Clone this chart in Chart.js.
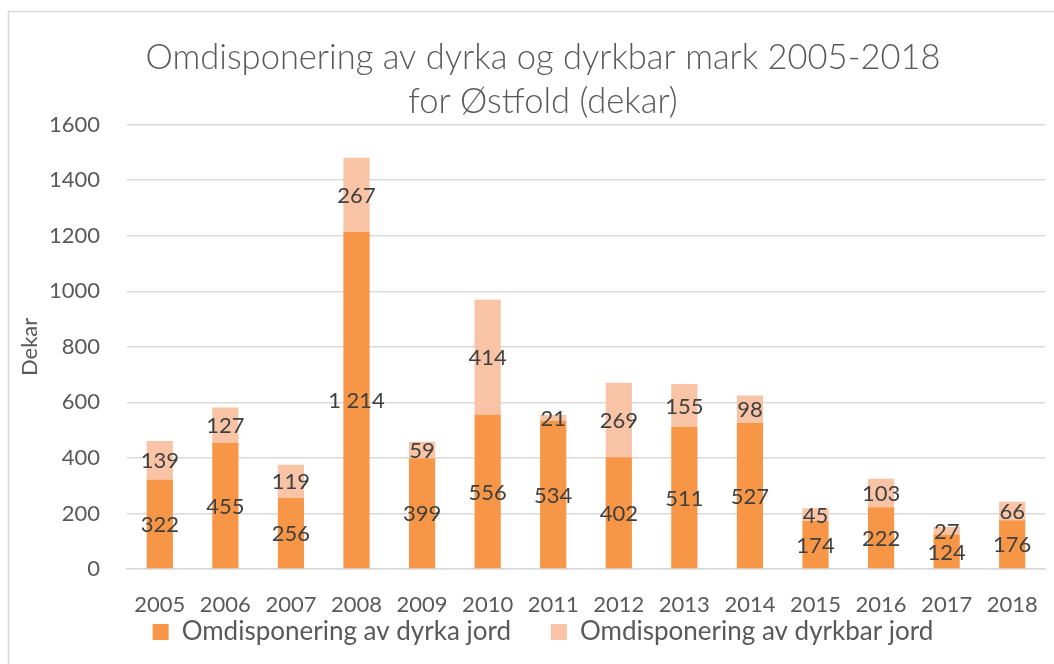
<!DOCTYPE html>
<html>
<head>
<meta charset="utf-8">
<script src="https://cdn.jsdelivr.net/npm/chart.js@4"></script>
<style>
    body { margin: 0; background: #ffffff; }
    #wrap { width: 1054px; height: 664px; position: relative; }
</style>
</head>
<body>
<div id="wrap"><canvas id="landChart" width="1054" height="664"></canvas></div>
<script>
// Data
const years = ['2005', '2006', '2007', '2008', '2009', '2010', '2011', '2012', '2013', '2014', '2015', '2016', '2017', '2018'];
const dyrkaJord = [322, 455, 256, 1214, 399, 556, 534, 402, 511, 527, 174, 222, 124, 176];
const dyrkbarJord = [139, 127, 119, 267, 59, 414, 21, 269, 155, 98, 45, 103, 27, 66];
const titleLines = ['Omdisponering av dyrka og dyrkbar mark 2005-2018', 'for Østfold (dekar)'];
const yTitle = 'Dekar';

const FONT = 'Lato, "Open Sans", sans-serif';
const TEXT = '#595959';

// Excel style: labels in the middle of each stacked segment
const segmentLabels = {
    id: 'segmentLabels',
    afterDatasetsDraw(chart) {
        const ctx = chart.ctx;
        ctx.save();
        ctx.font = '22px ' + FONT;
        ctx.fillStyle = '#404040';
        ctx.textAlign = 'center';
        ctx.textBaseline = 'middle';
        chart.data.datasets.forEach((ds, i) => {
            const meta = chart.getDatasetMeta(i);
            meta.data.forEach((bar, j) => {
                const v = ds.data[j];
                // thousands separated by a space, like "1 214"
                const label = String(v).replace(/\B(?=(\d{3})+(?!\d))/g, ' ');
                ctx.fillText(label, bar.x, (bar.y + bar.base) / 2 + 1);
            });
        });
        ctx.restore();
    }
};

// Frame round the chart and the rotated y axis title
const frame = {
    id: 'frame',
    beforeDraw(chart) {
        const ctx = chart.ctx;
        ctx.save();
        ctx.strokeStyle = '#d9d9d9';
        ctx.lineWidth = 1.5;
        ctx.strokeRect(8.5, 11.5, chart.width, chart.height);
        ctx.restore();
    },
    afterDraw(chart) {
        const ctx = chart.ctx;
        const area = chart.chartArea;
        ctx.save();
        ctx.translate(30, (area.top + area.bottom) / 2);
        ctx.rotate(-Math.PI / 2);
        ctx.font = '22px ' + FONT;
        ctx.fillStyle = TEXT;
        ctx.textAlign = 'center';
        ctx.textBaseline = 'middle';
        ctx.fillText(yTitle, 0, 0);
        ctx.restore();
    }
};

const ctx = document.getElementById('landChart').getContext('2d');
new Chart(ctx, {
    type: 'bar',
    data: {
        labels: years,
        datasets: [
            {
                label: 'Omdisponering av dyrka jord',
                data: dyrkaJord,
                backgroundColor: '#f79646',
                barPercentage: 0.4,
                categoryPercentage: 1.0
            },
            {
                label: 'Omdisponering av dyrkbar jord',
                data: dyrkbarJord,
                backgroundColor: '#f9c4a6',
                barPercentage: 0.4,
                categoryPercentage: 1.0
            }
        ]
    },
    options: {
        responsive: false,
        animation: false,
        layout: {
            padding: { left: 41, right: 9, top: 35, bottom: 9 }
        },
        plugins: {
            title: {
                display: true,
                text: titleLines,
                color: TEXT,
                font: { family: FONT, size: 34.5, weight: 300, lineHeight: 1.3 },
                padding: { top: 0, bottom: 0 }
            },
            legend: {
                position: 'bottom',
                labels: {
                    color: TEXT,
                    font: { family: FONT, size: 26 },
                    boxWidth: 16,
                    boxHeight: 16,
                    padding: 0,
                    generateLabels(chart) {
                        const items = Chart.defaults.plugins.legend.labels.generateLabels(chart);
                        // wider gap between the two entries, as in the reference
                        items[0].text = items[0].text + '\u00a0'.repeat(6);
                        return items;
                    }
                }
            },
            tooltip: { enabled: false }
        },
        scales: {
            x: {
                stacked: true,
                grid: { display: false },
                border: { display: true, color: '#d9d9d9', width: 1.5 },
                ticks: {
                    color: TEXT,
                    font: { family: FONT, size: 22 },
                    padding: 15,
                    maxRotation: 0
                },
                afterFit(scale) {
                    scale.height = 50;
                }
            },
            y: {
                stacked: true,
                min: 0,
                max: 1600,
                grid: { color: '#d9d9d9', lineWidth: 1.5, drawTicks: false },
                border: { display: false },
                ticks: {
                    stepSize: 200,
                    color: TEXT,
                    font: { family: FONT, size: 22 },
                    padding: 27,
                    callback: value => String(value)
                },
                afterFit(scale) {
                    scale.width = 86;
                }
            }
        }
    },
    plugins: [segmentLabels, frame]
});
</script>
</body>
</html>
